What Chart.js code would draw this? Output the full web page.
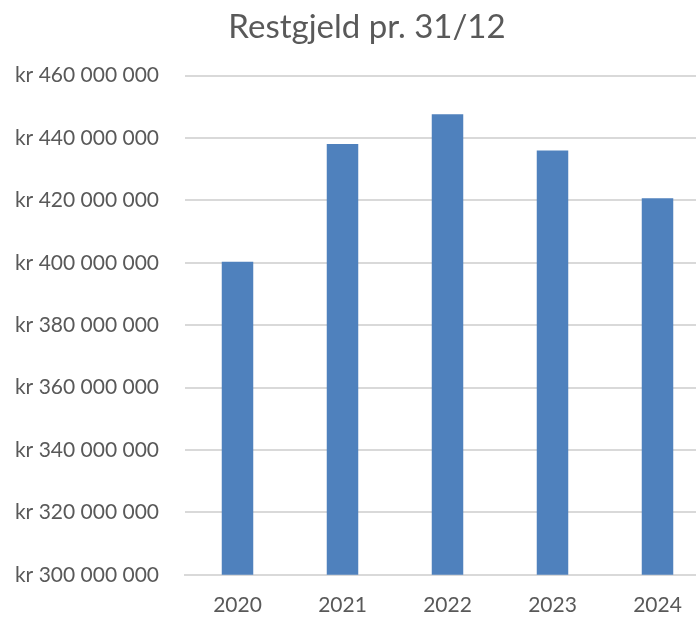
<!DOCTYPE html>
<html>
<head>
<meta charset="utf-8">
<script src="https://cdn.jsdelivr.net/npm/chart.js@4"></script>
<style>
  html, body { margin: 0; padding: 0; background: #fff; overflow: hidden; }
  #wrap { width: 696px; height: 617px; overflow: hidden; }
</style>
</head>
<body>
<div id="wrap"><canvas id="myChart" width="736" height="628"></canvas></div>
<script>
// chart data
const years = ['2020', '2021', '2022', '2023', '2024'];
const restgjeld = [400300000, 438100000, 447600000, 436000000, 420700000];
const yMin = 300000000;
const yMax = 460000000;
const yStep = 20000000;

function formatKr(v) {
  return 'kr ' + String(Math.round(v)).replace(/\B(?=(\d{3})+(?!\d))/g, ' ');
}

// the excel title is centred on the whole chart, not on the padded box
const shiftTitle = {
  id: 'shiftTitle',
  afterLayout(chart) {
    if (chart.titleBlock) chart.titleBlock.left += 14;
  },
};

function renderChart() {
  const data = {
    labels: years,
    datasets: [{
      label: 'Restgjeld',
      data: restgjeld,
      backgroundColor: '#4f81bd',
      borderWidth: 0,
      barPercentage: 0.3,
      categoryPercentage: 1,
    }],
  };
  const config = {
    type: 'bar',
    data: data,
    plugins: [shiftTitle],
    options: {
      responsive: false,
      animation: false,
      layout: { padding: { left: 10, right: 26, top: 8, bottom: 0 } },
      plugins: {
        legend: { display: false },
        tooltip: { enabled: false },
        title: {
          display: true,
          text: 'Restgjeld pr. 31/12',
          color: '#595959',
          font: { family: 'Lato', size: 33, weight: 'normal' },
          padding: { top: 0, bottom: 28 },
        },
      },
      scales: {
        x: {
          grid: { display: false },
          border: { display: true, color: '#d9d9d9', width: 2 },
          ticks: {
            color: '#595959',
            font: { family: 'Lato', size: 21 },
            padding: 10,
          },
        },
        y: {
          min: yMin,
          max: yMax,
          afterFit: (scale) => { scale.width = 175; },
          grid: { color: '#d9d9d9', lineWidth: 2, drawTicks: false },
          border: { display: false },
          ticks: {
            stepSize: yStep,
            color: '#595959',
            font: { family: 'Lato', size: 21 },
            padding: 26,
            callback: (v) => formatKr(v),
          },
        },
      },
    },
  };
  const myChart = new Chart(
    document.getElementById('myChart'),
    config,
  );
}

renderChart();
</script>
</body>
</html>
